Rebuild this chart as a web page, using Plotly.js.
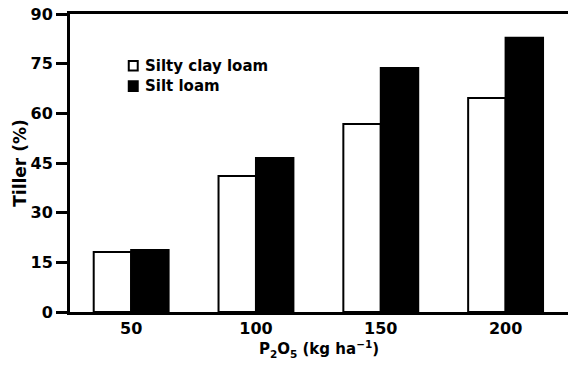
<!DOCTYPE html>
<html>
<head>
<meta charset="utf-8">
<script src="https://cdn.plot.ly/plotly-3.0.1.min.js"></script>
<style>html,body{margin:0;padding:0;background:#fff;}#chart{width:568px;height:366px;}</style>
</head>
<body>
<div id="chart"></div>
<script>
const categories = ["50", "100", "150", "200"];
const seriesNames = ["Silty clay loam", "Silt loam"];
const siltyClayLoam = [18.1, 41.1, 56.8, 64.6];
const siltLoam = [18.7, 46.5, 73.7, 82.8];
const yTicks = [0, 15, 30, 45, 60, 75, 90];
const seriesColors = ["#ffffff", "#000000"];

const font = {family: "DejaVu Sans, Arial, sans-serif", size: 16, color: "#000", weight: "bold"};

const data = [
  {type: "bar", name: seriesNames[0], x: categories, y: siltyClayLoam,
   marker: {color: seriesColors[0], line: {color: "#000", width: 2}}},
  {type: "bar", name: seriesNames[1], x: categories, y: siltLoam,
   marker: {color: seriesColors[1], line: {color: "#000", width: 2}}}
];

// legend drawn as paper-positioned swatches + text
const legX = 0.118, legTextX = 0.146, legY = [0.826, 0.758], legH = 0.032, legW = 0.018;
const shapes = seriesNames.map((n, i) => ({
  type: "rect", xref: "paper", yref: "paper",
  x0: legX, x1: legX + legW, y0: legY[i] - legH / 2, y1: legY[i] + legH / 2,
  fillcolor: seriesColors[i], line: {color: "#000", width: 2}
}));
const annotations = seriesNames.map((n, i) => ({
  xref: "paper", yref: "paper", x: legTextX, y: legY[i], xanchor: "left", yanchor: "middle",
  text: n, showarrow: false, font: {family: font.family, size: 15, weight: "bold", color: "#000"}
}));

const layout = {
  width: 568, height: 366,
  margin: {l: 70, r: 0, t: 14, b: 54},
  paper_bgcolor: "#fff", plot_bgcolor: "#fff",
  font: font,
  barmode: "group", bargap: 0.4, bargroupgap: 0,
  showlegend: false,
  shapes: shapes,
  annotations: annotations,
  xaxis: {
    type: "category", range: [-0.49, 3.5], showgrid: false, zeroline: false,
    showline: true, linecolor: "#000", linewidth: 3, mirror: true,
    ticks: "", tickfont: font, fixedrange: true,
    title: {text: "P<sub>2</sub>O<sub>5</sub> (kg ha<sup>−1</sup>)", font: {family: font.family, size: 15, weight: "bold", color: "#000"}, standoff: 2}
  },
  yaxis: {
    range: [0, 90], tickvals: yTicks, ticktext: yTicks.map(String),
    showgrid: false, zeroline: false, showline: true, linecolor: "#000", linewidth: 3,
    ticks: "outside", ticklen: 11, tickwidth: 3, tickcolor: "#000",
    tickfont: font, fixedrange: true,
    title: {text: "Tiller (%)", font: {family: font.family, size: 17, weight: "bold", color: "#000"}, standoff: 0}
  }
};

Plotly.newPlot("chart", data, layout, {displayModeBar: false, staticPlot: true});
</script>
</body>
</html>
